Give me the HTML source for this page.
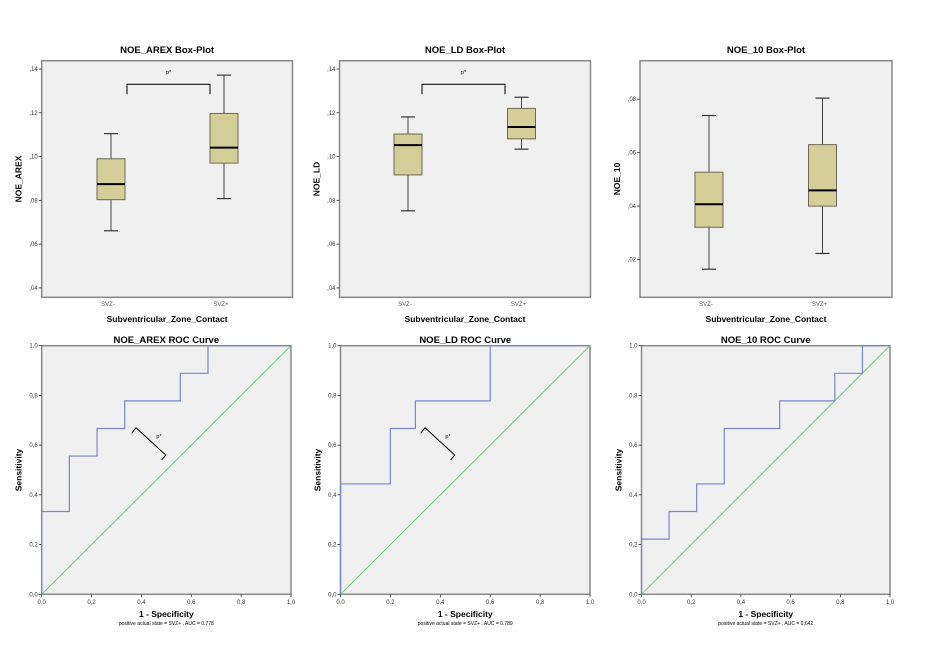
<!DOCTYPE html>
<html><head><meta charset="utf-8"><style>
html,body{margin:0;padding:0;background:#fff;}
svg{display:block;font-family:"Liberation Sans",sans-serif;}
</style></head><body>
<svg id="c" width="929" height="654" xmlns="http://www.w3.org/2000/svg"></svg>
<script>
const boxTitles=["NOE_AREX Box-Plot","NOE_LD Box-Plot","NOE_10 Box-Plot"];
const boxYLabels=["NOE_AREX","NOE_LD","NOE_10"];
const categories=["SVZ-","SVZ+"];
const boxStats1=[[0.0661,0.0803,0.0874,0.0990,0.1105],[0.0808,0.0970,0.1041,0.1197,0.1372]];
const boxStats2=[[0.0752,0.0916,0.1052,0.1103,0.1181],[0.1034,0.1081,0.1135,0.1220,0.1271]];
const boxStats3=[[0.0164,0.0321,0.0407,0.0527,0.0739],[0.0223,0.0400,0.0459,0.0630,0.0804]];
const boxTicks12=[0.04,0.06,0.08,0.10,0.12,0.14];
const boxTicks3=[0.02,0.04,0.06,0.08];
const tickLabels12=[",04",",06",",08",",10",",12",",14"];
const tickLabels3=[",02",",04",",06",",08"];
const rocTitles=["NOE_AREX ROC Curve","NOE_LD ROC Curve","NOE_10 ROC Curve"];
const rocX1=[0,0,0.111,0.111,0.222,0.222,0.333,0.333,0.556,0.556,0.667,0.667,1];
const rocY1=[0,0.333,0.333,0.556,0.556,0.667,0.667,0.778,0.778,0.889,0.889,1,1];
const rocX2=[0,0,0.2,0.2,0.3,0.3,0.6,0.6,1];
const rocY2=[0,0.444,0.444,0.667,0.667,0.778,0.778,1,1];
const rocX3=[0,0,0.111,0.111,0.222,0.222,0.333,0.333,0.556,0.556,0.778,0.778,0.889,0.889,1];
const rocY3=[0,0.222,0.222,0.333,0.333,0.444,0.444,0.667,0.667,0.778,0.778,0.889,0.889,1,1];
const aucValues=["0.778","0.789","0.642"];
const rocTicks=[0,0.2,0.4,0.6,0.8,1.0];
const rocTickLabels=["0,0","0,2","0,4","0,6","0,8","1,0"];

const svg=document.getElementById('c');
const NS="http://www.w3.org/2000/svg";
function mk(tag,attrs,parent,text){const e=document.createElementNS(NS,tag);for(const k in attrs)e.setAttribute(k,attrs[k]);if(text!==undefined)e.textContent=text;(parent||svg).appendChild(e);return e;}

const boxPanels=[
 {x0:41.7,x1:292.5,yT:60.7,yB:297.3,vTop:0.1438,vBot:0.0357,stats:boxStats1,ticks:boxTicks12,labels:tickLabels12,cx:[111,224],br:[127,210]},
 {x0:339.5,x1:590.5,yT:60.7,yB:297.3,vTop:0.1438,vBot:0.0357,stats:boxStats2,ticks:boxTicks12,labels:tickLabels12,cx:[408,521.5],br:[422,505]},
 {x0:640,x1:892,yT:60.7,yB:297.3,vTop:0.0944,vBot:0.0059,stats:boxStats3,ticks:boxTicks3,labels:tickLabels3,cx:[709,822.5],br:null}
];
boxPanels.forEach((p,i)=>{
 const g=mk('g',{});
 
 
 const y=v=>p.yT+(p.vTop-v)/(p.vTop-p.vBot)*(p.yB-p.yT);
 const fr=mk('rect',{x:p.x0,y:p.yT,width:p.x1-p.x0,height:p.yB-p.yT,fill:'#f0f0f0',stroke:'#888',"stroke-width":1.5},g);
 
 const t=mk('text',{x:(p.x0+p.x1)/2,y:53,"text-anchor":"middle","font-size":9.5,"font-weight":"bold"},g,boxTitles[i]);
 
 p.ticks.forEach((v,k)=>{
  mk('line',{x1:p.x0-3,x2:p.x0,y1:y(v),y2:y(v),stroke:'#333',"stroke-width":0.8},g);
  const tl=mk('text',{x:p.x0-4,y:y(v)+2,"text-anchor":"end","font-size":6,fill:'#333'},g,p.labels[k]);
  
 });
 const yl=mk('text',{transform:`translate(${p.x0-20},${(p.yT+p.yB)/2}) rotate(-90)`,"text-anchor":"middle","font-size":8.5,"font-weight":"bold"},g,boxYLabels[i]);
 
 const xl=mk('text',{x:(p.x0+p.x1)/2,y:322,"text-anchor":"middle","font-size":8.5,"font-weight":"bold"},g,"Subventricular_Zone_Contact");
 
 p.stats.forEach((s,j)=>{
  const cx=p.cx[j],w=14;
  const cl=mk('text',{x:cx-3,y:306,"text-anchor":"middle","font-size":6,fill:'#555'},g,categories[j]);
  
  mk('line',{x1:cx,x2:cx,y1:y(s[0]),y2:y(s[1]),stroke:'#444'},g);
  mk('line',{x1:cx,x2:cx,y1:y(s[3]),y2:y(s[4]),stroke:'#444'},g);
  mk('line',{x1:cx-7,x2:cx+7,y1:y(s[0]),y2:y(s[0]),stroke:'#333',"stroke-width":1.2},g);
  mk('line',{x1:cx-7,x2:cx+7,y1:y(s[4]),y2:y(s[4]),stroke:'#333',"stroke-width":1.2},g);
  const b=mk('rect',{x:cx-w,y:y(s[3]),width:2*w,height:y(s[1])-y(s[3]),fill:'#d4cf98',stroke:'#6b6a52',"stroke-width":1},g);
  
  mk('line',{x1:cx-w,x2:cx+w,y1:y(s[2]),y2:y(s[2]),stroke:'#000',"stroke-width":2},g);
 });
 if(p.br){
  const br=mk('path',{d:`M${p.br[0]},94.3 V84.3 H${p.br[1]} V94.3`,fill:'none',stroke:'#000',"stroke-width":1},g);
  
  mk('text',{x:(p.br[0]+p.br[1])/2,y:74,"text-anchor":"middle","font-size":5.5},g,"p*");
 }
});

const rocPanels=[
 {x0:41.7,x1:291,xs:rocX1,ys:rocY1,br:136},
 {x0:340.5,x1:590,xs:rocX2,ys:rocY2,br:425},
 {x0:641.5,x1:890,xs:rocX3,ys:rocY3,br:null}
];
const yT=345.7,yB=594.3;
rocPanels.forEach((p,i)=>{
 const g=mk('g',{});
 
 
 const X=v=>p.x0+v*(p.x1-p.x0), Y=v=>yB-v*(yB-yT);
 const fr=mk('rect',{x:p.x0,y:yT,width:p.x1-p.x0,height:yB-yT,fill:'#f0f0f0',stroke:'#888',"stroke-width":1.5},g);
 
 const t=mk('text',{x:(p.x0+p.x1)/2,y:343,"text-anchor":"middle","font-size":9.5,"font-weight":"bold"},g,rocTitles[i]);
 
 rocTicks.forEach((v,k)=>{
  mk('line',{x1:p.x0-3,x2:p.x0,y1:Y(v),y2:Y(v),stroke:'#333',"stroke-width":0.8},g);
  const a=mk('text',{x:p.x0-4,y:Y(v)+2,"text-anchor":"end","font-size":6,fill:'#333'},g,rocTickLabels[k]);
  
  mk('line',{x1:X(v),x2:X(v),y1:yB,y2:yB+3,stroke:'#333',"stroke-width":0.8},g);
  const b=mk('text',{x:X(v),y:604,"text-anchor":"middle","font-size":6,fill:'#333'},g,rocTickLabels[k]);
  
 });
 const yl=mk('text',{transform:`translate(${p.x0-20},${(yT+yB)/2}) rotate(-90)`,"text-anchor":"middle","font-size":8.5,"font-weight":"bold"},g,"Sensitivity");
 
 const xl=mk('text',{x:(p.x0+p.x1)/2,y:617,"text-anchor":"middle","font-size":8.5,"font-weight":"bold"},g,"1 - Specificity");
 
 const cap=mk('text',{x:(p.x0+p.x1)/2,y:625,"text-anchor":"middle","font-size":5},g,"positive actual state = SVZ+ , AUC = "+aucValues[i]);
 
 const ref=mk('line',{x1:X(0),y1:Y(0),x2:X(1),y2:Y(1),stroke:'#66cc77',"stroke-width":1},g);
 
 const pts=p.xs.map((v,k)=>X(v)+','+Y(p.ys[k])).join(' ');
 const c=mk('polyline',{points:pts,fill:'none',stroke:'#7a86c8',"stroke-width":1.2},g);
 
 if(p.br){
  const b=p.br;
  const br=mk('path',{d:`M${b-4.3},433.3 L${b},427.7 L${b+29.7},455 L${b+25.7},460`,fill:'none',stroke:'#000',"stroke-width":1},g);
  
  mk('text',{x:b+23,y:438,"text-anchor":"middle","font-size":5.5},g,"p*");
 }
});
</script>
</body></html>
